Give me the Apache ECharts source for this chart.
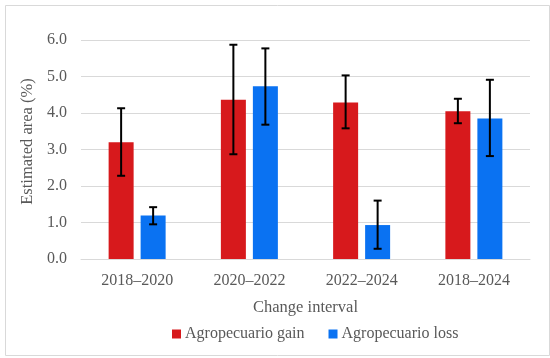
<!DOCTYPE html>
<html><head><meta charset="utf-8">
<script src="https://cdn.jsdelivr.net/npm/echarts@6/dist/echarts.min.js"></script>
<style>html,body{margin:0;padding:0;background:#fff}#c{width:550px;height:358px}</style>
</head><body><div id="c"></div>
<script>
const categories = ['2018–2020','2020–2022','2022–2024','2018–2024'];
const gainValues = [3.20, 4.36, 4.29, 4.05];
const gainLow    = [2.28, 2.87, 3.58, 3.72];
const gainHigh   = [4.13, 5.87, 5.03, 4.39];
const lossValues = [1.19, 4.73, 0.93, 3.85];
const lossLow    = [0.95, 3.68, 0.28, 2.82];
const lossHigh   = [1.42, 5.77, 1.60, 4.91];
const yTicks = [0, 1, 2, 3, 4, 5, 6];

const FONT = '"Liberation Serif", "Times New Roman", serif';
const TXT = '#595959';
const RED = '#d7191c';
const BLUE = '#0a72f2';
const OFFSET = 16;

function errSeries(low, high, dir) {
  return {
    type: 'custom',
    silent: true,
    z: 10,
    data: categories.map((c, i) => [i, low[i], high[i]]),
    renderItem: function (params, api) {
      const i = api.value(0);
      const lo = api.coord([i, api.value(1)]);
      const hi = api.coord([i, api.value(2)]);
      const x = lo[0] + dir * OFFSET;
      const cw = 4;
      const st = { stroke: '#000', lineWidth: 2 };
      return {
        type: 'group',
        children: [
          { type: 'line', shape: { x1: x, y1: hi[1], x2: x, y2: lo[1] }, style: st },
          { type: 'line', shape: { x1: x - cw, y1: hi[1], x2: x + cw, y2: hi[1] }, style: st },
          { type: 'line', shape: { x1: x - cw, y1: lo[1], x2: x + cw, y2: lo[1] }, style: st }
        ]
      };
    }
  };
}

const chart = echarts.init(document.getElementById('c'), null, { renderer: 'canvas' });
chart.setOption({
  animation: false,
  backgroundColor: '#fff',
  graphic: [{
    type: 'rect', left: 3, top: 3, z: -1,
    shape: { width: 544, height: 350 },
    style: { fill: 'none', stroke: '#d9d9d9', lineWidth: 1 }
  }],
  grid: { left: 81, right: 20, top: 40, bottom: 99 },
  legend: {
    left: 167, top: 321,
    itemWidth: 9, itemHeight: 9, itemGap: 24, icon: 'rect',
    textStyle: { fontFamily: FONT, fontSize: 16, color: TXT, padding: [0, 0, 0, -1] },
    data: ['Agropecuario gain', 'Agropecuario loss']
  },
  xAxis: {
    type: 'category',
    data: categories,
    name: 'Change interval',
    nameLocation: 'middle',
    nameGap: 40,
    nameTextStyle: { fontFamily: FONT, fontSize: 16.5, color: TXT },
    axisLine: { lineStyle: { color: '#d9d9d9', width: 1 } },
    axisTick: { show: false },
    axisLabel: { fontFamily: FONT, fontSize: 16, color: TXT, margin: 14 }
  },
  yAxis: {
    type: 'value',
    min: yTicks[0], max: yTicks[yTicks.length - 1], interval: 1,
    name: 'Estimated area (%)',
    nameLocation: 'middle',
    nameGap: 40,
    nameTextStyle: { fontFamily: FONT, fontSize: 16.5, color: TXT, padding: [0, 0, 0, 16] },
    axisLine: { show: false },
    axisTick: { show: false },
    splitLine: { lineStyle: { color: '#d9d9d9', width: 1 } },
    axisLabel: { fontFamily: FONT, fontSize: 16, color: TXT, margin: 14, formatter: v => v.toFixed(1) }
  },
  series: [
    { name: 'Agropecuario gain', type: 'bar', data: gainValues, barWidth: 25, barGap: '28%',
      itemStyle: { color: RED } },
    { name: 'Agropecuario loss', type: 'bar', data: lossValues, barWidth: 25,
      itemStyle: { color: BLUE } },
    errSeries(gainLow, gainHigh, -1),
    errSeries(lossLow, lossHigh, 1)
  ]
});
</script></body></html>
